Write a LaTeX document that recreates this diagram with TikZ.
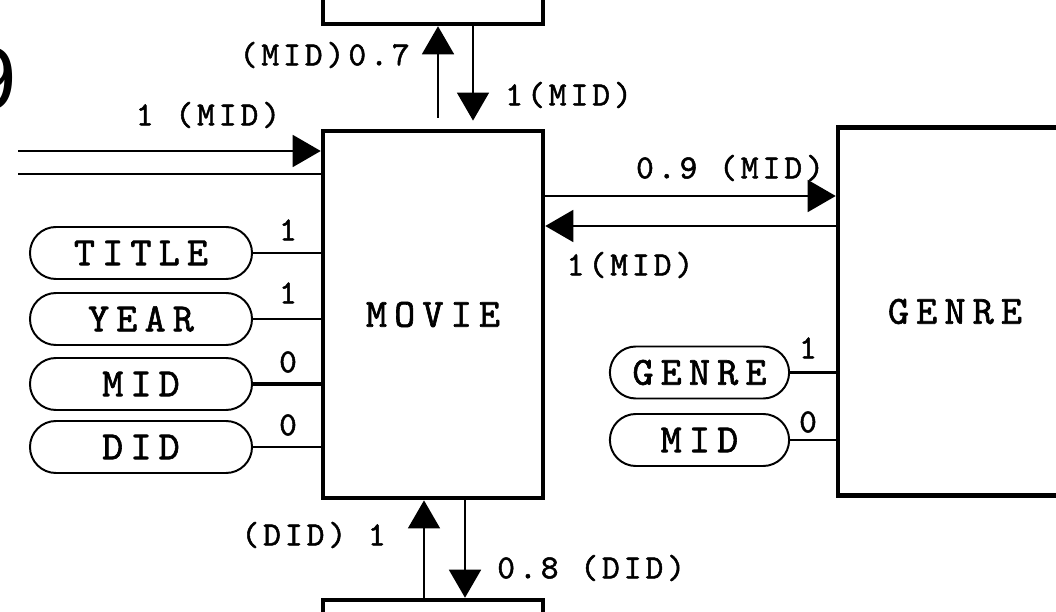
\documentclass[tikz,border=0pt]{standalone}
\usepackage{fontspec}
\usepackage{tikz}
\usetikzlibrary{positioning,arrows.meta,calc,shapes.misc}
\setsansfont{Liberation Sans}
\newfontfamily\erfont{lmmono10-regular.otf}[FakeBold=1.5,LetterSpace=18]
\newfontfamily\lblfont{lmmono10-regular.otf}[FakeBold=1.5,LetterSpace=12]

\tikzset{
  entbox/.style={draw,line width=3.2pt,minimum width=5.5cm,minimum height=9.18cm,inner sep=0pt,font=\erfont\fontsize{28.5}{30}\selectfont},
  attr/.style={draw,rounded rectangle,line width=1.4pt,minimum width=5.55cm,minimum height=1.3cm,inner sep=0pt,font=\erfont\fontsize{28.5}{30}\selectfont},
  lbl/.style={inner sep=0pt,font=\lblfont\fontsize{24}{26}\selectfont},
  arr/.style={line width=1.1pt,-{Triangle[length=0.7cm,width=0.8cm]}},
  link/.style={line width=1.8pt}
}

\begin{document}
\begin{tikzpicture}[x=0.025cm,y=0.025cm]
  \useasboundingbox (0,0) rectangle (1056,611);
  \clip (0,0) rectangle (1056,611);

  % entities
  \node[entbox] (movie) at (433,296.5) {MOVIE};
  \node[entbox,minimum width=5.85cm,minimum height=9.2cm] (genre) at (955,299.5) {GENRE};
  \node[entbox,minimum height=3.25cm] (topent) at (433,652) {};
  \node[entbox,minimum height=3.25cm] (botent) at (433,-54) {};

  \node[anchor=base east,inner sep=0pt,font=\sffamily\fontsize{63}{70}\selectfont] (pg) at (17,501) {9};

  % attributes of MOVIE
  \foreach \n/\t/\y/\c/\ly/\w in {title/TITLE/358/1/381/1.8pt, year/YEAR/292/1/318/1.8pt, mid/MID/227/0/249/2.6pt, did/DID/164/0/186/1.8pt}{
    \node[attr] (\n) at (141,\y) {\t};
    \draw[line width=\w] (\n.east) -- (\n.east -| movie.west);
    \node[lbl] (\n-c) at (288,\ly) {\c};
  }

  % attributes of GENRE
  \foreach \n/\t/\y/\c/\ly in {gname/GENRE/238.5/1/263, gmid/MID/171/0/189}{
    \node[attr,minimum width=4.48cm] (\n) at (699.5,\y) {\t};
    \draw[link] (\n.east) -- (\n.east -| genre.west);
    \node[lbl] (\n-c) at (808,\ly) {\c};
  }

  % top
  \draw[arr] ($(movie.north)+(5,11)$) -- ($(topent.south)+(5,0)$);
  \draw[arr] ($(topent.south)+(40,0)$) -- ($(movie.north)+(40,8)$);
  \node[lbl,anchor=east] (l-top1) at (410,556) {(MID)0.7};
  \node[lbl,anchor=west] (l-top2) at (505,516) {1(MID)};

  % left
  \coordinate (in1) at (18,460);
  \coordinate (in2) at (18,437);
  \draw[arr] (in1) -- (in1 -| movie.west);
  \draw[line width=1.1pt] (in2) -- (in2 -| movie.west);
  \node[lbl] (l-in) at (208,496) {1 (MID)};

  % MOVIE <-> GENRE
  \coordinate (fwd) at ($(movie.east)+(0,118.5)$);
  \coordinate (bwd) at ($(genre.west)+(0,85.5)$);
  \draw[arr] (fwd) -- (fwd -| genre.west);
  \draw[arr] (bwd) -- (bwd -| movie.east);
  \node[lbl] (l-fwd) at (730,443) {0.9 (MID)};
  \node[lbl] (l-bwd) at (630,346) {1(MID)};

  % bottom
  \draw[arr] ($(botent.north)+(-9,0)$) -- ($(movie.south)+(-9,0)$);
  \draw[arr] ($(movie.south)+(32,0)$) -- ($(botent.north)+(32,0)$);
  \node[lbl,anchor=east] (l-bot1) at (386,76) {(DID) 1};
  \node[lbl,anchor=west] (l-bot2) at (497,43) {0.8 (DID)};
\end{tikzpicture}
\end{document}
